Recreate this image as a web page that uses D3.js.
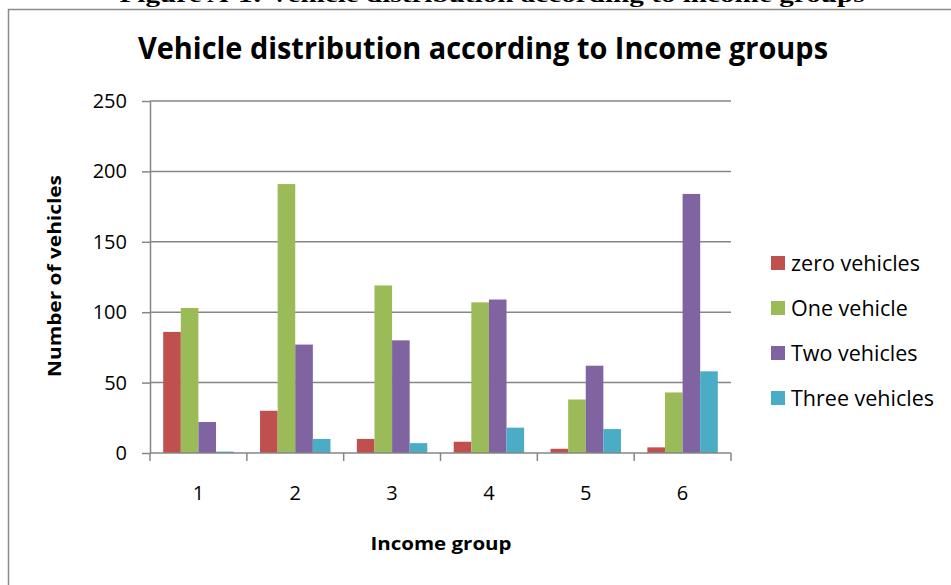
<!DOCTYPE html>
<html>
<head>
<meta charset="utf-8">
<script src="https://cdn.jsdelivr.net/npm/d3@7"></script>
<style>
  html, body { margin: 0; padding: 0; background: #fff; }
  svg { display: block; }
</style>
</head>
<body>
<svg id="chart" width="951" height="585"></svg>
<script>
// Income groups on the x axis
const groups = ["1", "2", "3", "4", "5", "6"];
// Series names, one per vehicle count
const seriesNames = ["zero vehicles", "One vehicle", "Two vehicles", "Three vehicles"];
// Households per income group for each series
const zeroVehicles  = [86, 30, 10, 8, 3, 4];
const oneVehicle    = [103, 191, 119, 107, 38, 43];
const twoVehicles   = [22, 77, 80, 109, 62, 184];
const threeVehicles = [1, 10, 7, 18, 17, 58];
// y axis ticks
const yTicks = [0, 50, 100, 150, 200, 250];

const seriesValues = [zeroVehicles, oneVehicle, twoVehicles, threeVehicles];
const colors = ["#C0504D", "#9BBB59", "#8064A2", "#4BACC6"];

const svg = d3.select("#chart");
const font = "'Open Sans', 'Noto Sans', sans-serif";
const axisGray = "#868686";

// Caption above the frame (only its lower edge shows)
svg.append("text")
  .attr("x", 492).attr("y", 2)
  .attr("text-anchor", "middle")
  .attr("font-family", "'Liberation Serif', 'DejaVu Serif', serif")
  .attr("font-weight", "bold")
  .attr("font-size", 22)
  .attr("textLength", 745)
  .attr("lengthAdjust", "spacingAndGlyphs")
  .text("Figure A-1: Vehicle distribution according to income groups");

// Chart frame
svg.append("rect")
  .attr("x", 8.5).attr("y", 9.5)
  .attr("width", 1000).attr("height", 700)
  .attr("fill", "none")
  .attr("stroke", "#8a8a8a")
  .attr("stroke-width", 1.5);

// Plot area
const plotLeft = 150, plotRight = 731, plotTop = 101, plotBottom = 453;

const x0 = d3.scaleBand().domain(groups).range([plotLeft, plotRight]).paddingInner(0).paddingOuter(0);
const x1 = d3.scaleBand().domain(seriesNames).range([0, x0.bandwidth()]).paddingInner(0).paddingOuter(0.75);
const y = d3.scaleLinear().domain([0, 250]).range([plotBottom, plotTop]);

// Horizontal gridlines
svg.append("g")
  .selectAll("line")
  .data(yTicks.filter(t => t > 0))
  .join("line")
  .attr("x1", plotLeft).attr("x2", plotRight)
  .attr("y1", d => y(d)).attr("y2", d => y(d))
  .attr("stroke", axisGray)
  .attr("stroke-width", 1.5);

// Bars
const table = groups.map((g, i) => ({ group: g, values: seriesNames.map((s, j) => ({ series: s, value: seriesValues[j][i], color: colors[j] })) }));

svg.append("g")
  .selectAll("g")
  .data(table)
  .join("g")
  .attr("transform", d => `translate(${x0(d.group)},0)`)
  .selectAll("rect")
  .data(d => d.values)
  .join("rect")
  .attr("x", d => x1(d.series))
  .attr("y", d => y(d.value))
  .attr("width", x1.bandwidth())
  .attr("height", d => y(0) - y(d.value))
  .attr("fill", d => d.color);

// y axis
const yAxis = d3.axisLeft(y).tickValues(yTicks).tickSize(8).tickPadding(15).tickSizeOuter(0);
const gy = svg.append("g").attr("transform", `translate(${plotLeft},0)`).call(yAxis);
gy.select(".domain").attr("stroke", axisGray).attr("stroke-width", 1.5);
gy.selectAll(".tick line").attr("stroke", axisGray).attr("stroke-width", 1.5);
gy.selectAll(".tick text")
  .attr("font-family", font).attr("font-size", 20).attr("fill", "#000");

// x axis: category boundaries get tick marks, labels sit at band centres
svg.append("line")
  .attr("x1", plotLeft).attr("x2", plotRight)
  .attr("y1", plotBottom).attr("y2", plotBottom)
  .attr("stroke", axisGray).attr("stroke-width", 1.5);

const boundaries = groups.map(g => x0(g)).concat([plotRight]);
svg.append("g")
  .selectAll("line")
  .data(boundaries)
  .join("line")
  .attr("x1", d => d).attr("x2", d => d)
  .attr("y1", plotBottom).attr("y2", plotBottom + 8)
  .attr("stroke", axisGray).attr("stroke-width", 1.5);

svg.append("g")
  .selectAll("text")
  .data(groups)
  .join("text")
  .attr("x", d => x0(d) + x0.bandwidth() / 2)
  .attr("y", 500)
  .attr("text-anchor", "middle")
  .attr("font-family", font).attr("font-size", 20).attr("fill", "#000")
  .text(d => d);

// Title
svg.append("text")
  .attr("x", 483).attr("y", 59)
  .attr("text-anchor", "middle")
  .attr("font-family", font).attr("font-weight", "bold")
  .attr("font-size", 30)
  .attr("textLength", 690)
  .attr("lengthAdjust", "spacingAndGlyphs")
  .text("Vehicle distribution according to Income groups");

// Axis titles
svg.append("text")
  .attr("x", 441).attr("y", 550)
  .attr("text-anchor", "middle")
  .attr("font-family", font).attr("font-weight", "bold")
  .attr("font-size", 18.5)
  .attr("textLength", 141)
  .attr("lengthAdjust", "spacingAndGlyphs")
  .text("Income group");

svg.append("text")
  .attr("transform", "translate(61,276) rotate(-90)")
  .attr("text-anchor", "middle")
  .attr("font-family", font).attr("font-weight", "bold")
  .attr("font-size", 18.5)
  .attr("textLength", 202)
  .attr("lengthAdjust", "spacingAndGlyphs")
  .text("Number of vehicles");

// Legend
const legend = svg.append("g")
  .selectAll("g")
  .data(seriesNames)
  .join("g")
  .attr("transform", (d, i) => `translate(771,${263 + i * 45})`);

legend.append("rect")
  .attr("x", 0).attr("y", -7)
  .attr("width", 14).attr("height", 14)
  .attr("fill", (d, i) => colors[i]);

legend.append("text")
  .attr("x", 20).attr("y", 0)
  .attr("dy", "0.36em")
  .attr("font-family", font).attr("font-size", 21.5).attr("fill", "#000")
  .text(d => d);
</script>
</body>
</html>
